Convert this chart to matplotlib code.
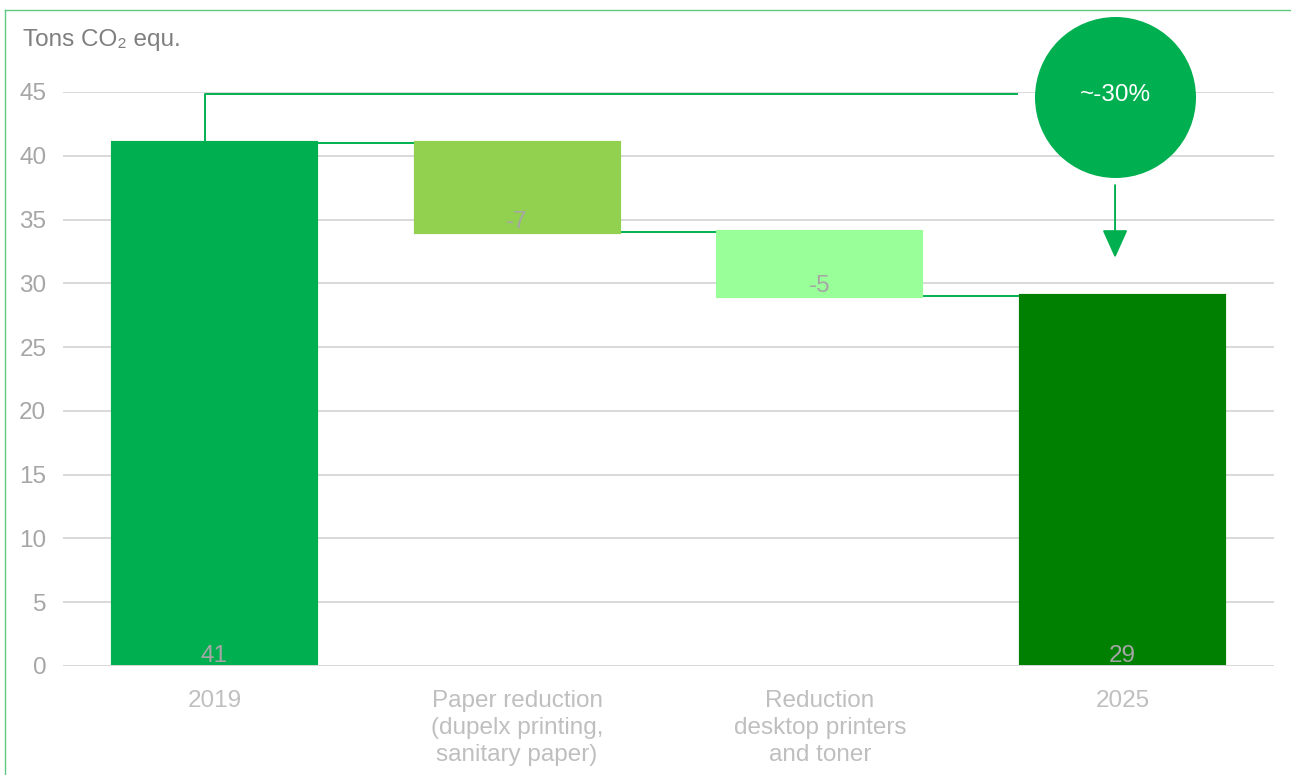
import numpy as np
import matplotlib.pyplot as plt
from matplotlib.lines import Line2D

plt.rcParams.update({
    "font.family": ["Liberation Sans", "DejaVu Sans"],
    "font.size": 17.5,
})

# Waterfall data
categories = ["2019", "Paper reduction\n(dupelx printing,\nsanitary paper)",
              "Reduction\ndesktop printers\nand toner", "2025"]
values = [41, -7, -5, 29]
kinds = ["total", "delta", "delta", "total"]
bar_colors = ["#00B050", "#92D050", "#99FF99", "#008000"]
change_label = "~-30%"

green = "#00B050"
grid_col = "#D9D9D9"

fig = plt.figure(figsize=(12.91, 7.75), dpi=100)
ax = fig.add_axes([63 / 1291, 1 - 666 / 775, (1274 - 63) / 1291, (666 - 92) / 775])

# bottoms/tops of the floating bars
x = np.arange(len(categories))
bottoms, tops = [], []
level = 0
for v, k in zip(values, kinds):
    if k == "total":
        bottoms.append(0)
        tops.append(v)
        level = v
    else:
        bottoms.append(level + v)
        tops.append(level)
        level = level + v
bottoms = np.array(bottoms)
tops = np.array(tops)

width = 0.67
ax.bar(x, tops - bottoms, bottom=bottoms, width=width, color=bar_colors,
       edgecolor=bar_colors, linewidth=3, zorder=2)

# connector lines between neighbouring bars
for i in range(len(x) - 1):
    y_conn = tops[i] if kinds[i] == "total" else bottoms[i]
    ax.plot([x[i] + width / 2, x[i + 1] - width / 2], [y_conn, y_conn],
            color=green, lw=1.4, zorder=1.5)

# value labels at the base of each bar
for xi, b, v in zip(x, bottoms, values):
    ax.annotate(f"{v}", (xi, b), xytext=(0, -0.5), textcoords="offset points",
                ha="center", va="bottom", color="#A6A6A6", zorder=4)

# bracket from the 2019 bar to the change marker
bracket_y = 44.85
ax.plot([x[0] - 0.03, x[0] - 0.03, 2.65], [tops[0], bracket_y, bracket_y],
        color=green, lw=1.4, zorder=1.5, clip_on=False)

# circle with the overall change
ax.scatter([2.975], [44.6], s=(161 * 0.72) ** 2, color=green, zorder=5, clip_on=False,
           linewidths=0)
ax.text(2.975, 44.75, change_label, ha="center", va="center", color="white",
        zorder=6, clip_on=False)
ax.annotate("", xy=(2.975, 32.0), xytext=(2.975, 37.7),
            arrowprops=dict(arrowstyle="-|>,head_length=1.0,head_width=0.45",
                            color=green, lw=1.4, shrinkA=0, shrinkB=0), zorder=5)

ax.set_xlim(-0.5, 3.5)
ax.set_ylim(0, 45)
ax.set_yticks(np.arange(0, 46, 5))
ax.set_xticks(x)
ax.set_xticklabels(categories, color="#BFBFBF", linespacing=1.3)
ax.tick_params(axis="y", length=0, pad=12, colors="#A6A6A6")
ax.tick_params(axis="x", length=0, pad=17)

ax.grid(axis="y", color=grid_col, lw=1.4, zorder=0)
ax.set_axisbelow(True)
ax.axhline(0, color=grid_col, lw=1.4, zorder=3)
for s in ax.spines.values():
    s.set_visible(False)

fig.text(23 / 1291, 1 - 40 / 775, "Tons CO\u2082 equ.", ha="left", va="center",
         color="#7F7F7F", fontsize=17.5)

# thin frame around the figure
frame_col = "#5CCB80"
fig.add_artist(Line2D([5 / 1291, 5 / 1291], [0, 1 - 10 / 775], color=frame_col, lw=1))
fig.add_artist(Line2D([5 / 1291, 1], [1 - 10 / 775, 1 - 10 / 775], color=frame_col, lw=1))

fig.savefig("out.png", dpi=100)
